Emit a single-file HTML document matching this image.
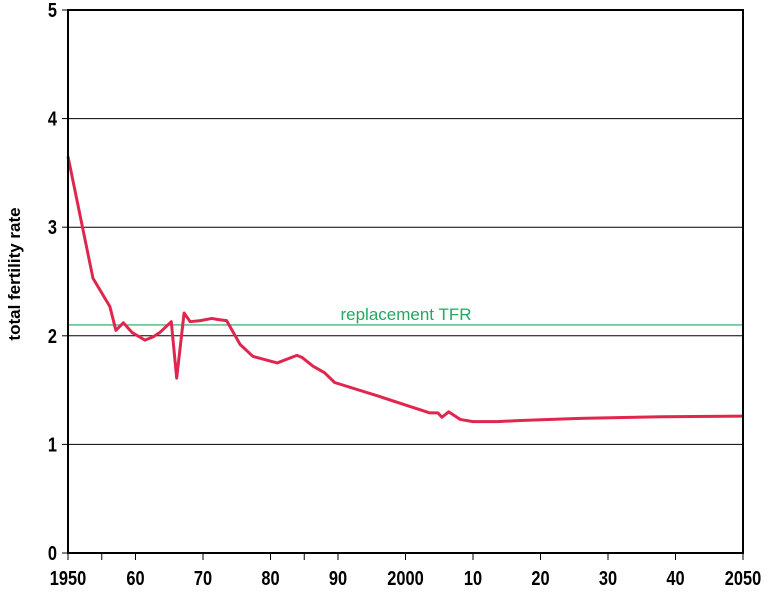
<!DOCTYPE html>
<html><head><meta charset="utf-8"><style>
html,body{margin:0;padding:0;background:#fff;}
svg{display:block;font-family:"Liberation Sans",Arial,sans-serif;}
</style></head><body>
<svg id="chart" width="770" height="592" viewBox="0 0 770 592" xmlns="http://www.w3.org/2000/svg">
<g id="grid"></g>
<g id="ref"></g>
<g id="series"></g>
<g id="axes"></g>
<text transform="translate(20,274) rotate(-90)" text-anchor="middle" font-size="17" font-weight="bold">total fertility rate</text>
</svg>
<script>
const years=[1950,1953.7,1956.2,1957.1,1958.2,1959.5,1961.4,1962.6,1963.6,1965.3,1966.1,1967.2,1968.1,1969.6,1971.3,1972.2,1973.5,1975.5,1977.4,1981,1983.9,1984.7,1986.3,1988,1989.5,1996.2,2001.1,2002.6,2003.6,2004.8,2005.4,2006.4,2008.1,2010,2013.6,2017,2025.9,2038,2050];
const tfr=[3.65,2.53,2.27,2.05,2.12,2.03,1.96,1.99,2.03,2.13,1.61,2.21,2.13,2.14,2.16,2.15,2.14,1.92,1.81,1.75,1.82,1.80,1.72,1.66,1.57,1.44,1.34,1.31,1.29,1.29,1.25,1.30,1.23,1.21,1.21,1.22,1.24,1.255,1.26];
const yTicks=[0,1,2,3,4,5];
const xTicks=[1950,1955,1960,1970,1980,1985,1990,2000,2010,2020,2030,2040,2050];
const xLabels={1950:"1950",1960:"60",1970:"70",1980:"80",1990:"90",2000:"2000",2010:"10",2020:"20",2030:"30",2040:"40",2050:"2050"};
const replacement=2.1;
const L=68,R=743,T=10,B=553;
const xs=v=>L+(v-1950)/100*(R-L);
const ys=v=>B-v/5*(B-T);
const NS="http://www.w3.org/2000/svg";
function mk(tag,attrs,parent){const e=document.createElementNS(NS,tag);for(const k in attrs)e.setAttribute(k,attrs[k]);parent.appendChild(e);return e;}
const grid=document.getElementById('grid'),axes=document.getElementById('axes'),ser=document.getElementById('series'),ref=document.getElementById('ref');
yTicks.forEach(v=>{
  if(v>0&&v<5){const g=mk('line',{x1:L,x2:R,y1:ys(v),y2:ys(v),stroke:'#000','stroke-width':1},grid);
  
  }
  const t=mk('line',{x1:L-6,x2:L,y1:ys(v),y2:ys(v),stroke:'#000','stroke-width':1},axes);
  
  
  const tx=mk('text',{transform:'translate('+(L-11)+','+(ys(v)+7)+') scale(0.82,1)','text-anchor':'end','font-size':20,'font-weight':'bold'},axes);
  tx.textContent=v;
  
  
});
xTicks.forEach(v=>{
  const t=mk('line',{x1:xs(v),x2:xs(v),y1:B,y2:B+7,stroke:'#000','stroke-width':1},axes);
  
  
  if(xLabels[v]){const tx=mk('text',{transform:'translate('+xs(v)+','+(B+32)+') scale(0.82,1)','text-anchor':'middle','font-size':20,'font-weight':'bold'},axes);
  tx.textContent=xLabels[v];
  
  }
});
const frame=mk('rect',{x:L,y:T,width:R-L,height:B-T,fill:'none',stroke:'#000','stroke-width':2},axes);


const rl=mk('line',{x1:L,x2:R,y1:ys(replacement),y2:ys(replacement),stroke:'#22a860','stroke-width':1.2},ref);


const rt=mk('text',{x:406,y:ys(replacement)-5,'text-anchor':'middle','font-size':17,fill:'#22a860'},ref);
rt.textContent='replacement TFR';


const p=mk('polyline',{points:years.map((y,i)=>xs(y)+','+ys(tfr[i])).join(' '),fill:'none',stroke:'#e0264f','stroke-width':3,'stroke-linejoin':'round'},ser);


</script>
</body></html>
